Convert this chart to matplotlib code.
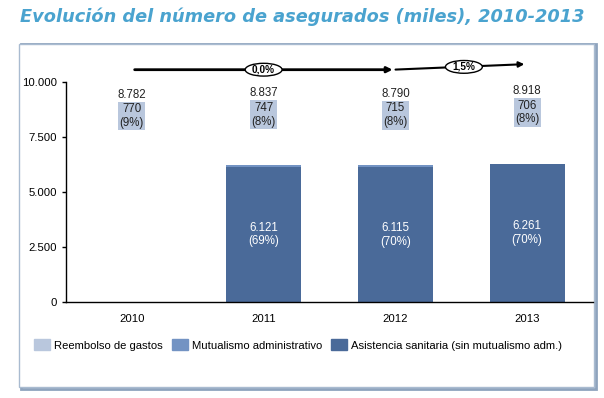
import numpy as np
import matplotlib
matplotlib.use('Agg')
import matplotlib.pyplot as plt
from matplotlib.patches import Rectangle, Ellipse

plt.rcParams['font.family'] = ['Liberation Sans', 'DejaVu Sans']

years = ['2010', '2011', '2012', '2013']
asistencia = [np.nan, 6121, 6115, 6261]
asistencia_pct = ['', '(69%)', '(70%)', '(70%)']
mutualismo = [np.nan, 90, 90, 0]
reembolso = [770, 747, 715, 706]
reembolso_pct = ['(9%)', '(8%)', '(8%)', '(8%)']
totales = [8782, 8837, 8790, 8918]
tasas = ['0,0%', '1,5%']

c_reemb = '#b9c7dd'
c_mutual = '#7393c3'
c_asist = '#4a6a99'


def fmt(v):
    return f'{v:,.0f}'.replace(',', '.')


fig = plt.figure(figsize=(6.04, 3.98), dpi=100)

fig.text(0.033, 0.957, 'Evolución del número de asegurados (miles), 2010-2013',
         fontsize=12.8, fontweight='bold', style='italic', color='#4aa3cf',
         family='DejaVu Sans', va='center')

# marco
fig.patches.append(Rectangle((21 / 604, 1 - 389 / 398), 575 / 604, 345 / 398,
                             transform=fig.transFigure, fill=False,
                             edgecolor='#8ea3bd', linewidth=2.0, zorder=-2))
fig.patches.append(Rectangle((19 / 604, 1 - 387 / 398), 575 / 604, 343 / 398,
                             transform=fig.transFigure, facecolor='white',
                             edgecolor='#a9bbd0', linewidth=1.0, zorder=-1))

ax = fig.add_axes([66 / 604, 1 - 302 / 398, 527 / 604, 220.3 / 398])
ax.set_facecolor('none')
x = np.arange(len(years))
w = 0.57

a = np.nan_to_num(asistencia)
m = np.nan_to_num(mutualismo)
ax.bar(x, a, w, color=c_asist, zorder=2)
ax.bar(x, m, w, bottom=a, color=c_mutual, zorder=2)

for i in range(len(years)):
    if asistencia[i] == asistencia[i]:
        ax.text(x[i], a[i] / 2, f'{fmt(asistencia[i])}\n{asistencia_pct[i]}',
                ha='center', va='center', color='white', fontsize=8.3, linespacing=1.2)
    yc = totales[i] - reembolso[i] / 2 + 40
    ax.text(x[i], yc, f'{fmt(reembolso[i])}\n{reembolso_pct[i]}', ha='center', va='center',
            fontsize=8.3, color='#222222', linespacing=1.2, clip_on=False,
            bbox=dict(boxstyle='square,pad=0.12', facecolor=c_reemb, edgecolor='none'))
    ax.annotate(fmt(totales[i]), (x[i], yc), xytext=(0, 15.3),
                textcoords='offset points', ha='center', va='center',
                fontsize=8.3, color='#222222', annotation_clip=False)

# flechas de crecimiento
y1, y2 = 10545, 10800
ax.annotate('', xy=(2, y1), xytext=(0, y1),
            arrowprops=dict(arrowstyle='-|>', color='black', lw=2, mutation_scale=8),
            annotation_clip=False)
ax.annotate('', xy=(3, y2), xytext=(1.98, y1),
            arrowprops=dict(arrowstyle='-|>', color='black', lw=1.5, mutation_scale=8),
            annotation_clip=False)
for xc, yc, t in [(1, y1, tasas[0]), (2.52, (y1 + y2) / 2, tasas[1])]:
    ax.add_patch(Ellipse((xc, yc), 0.28, 580, facecolor='white', edgecolor='black',
                         lw=1, clip_on=False, zorder=5))
    ax.text(xc, yc, t, ha='center', va='center', fontsize=7.2, fontweight='bold',
            zorder=6, clip_on=False)

ax.set_xlim(-0.5, 3.5)
ax.set_ylim(0, 10000)
ax.set_yticks([0, 2500, 5000, 7500, 10000])
ax.set_yticklabels([fmt(v) for v in [0, 2500, 5000, 7500, 10000]])
ax.set_xticks(x)
ax.set_xticklabels(years)
ax.tick_params(axis='x', length=0, pad=9, labelsize=8.2)
ax.tick_params(axis='y', length=3, width=1, labelsize=8.2)
for s in ['top', 'right']:
    ax.spines[s].set_visible(False)
for s in ['left', 'bottom']:
    ax.spines[s].set_color('black')
    ax.spines[s].set_linewidth(1)

handles = [Rectangle((0, 0), 1, 1, color=c) for c in (c_reemb, c_mutual, c_asist)]
fig.legend(handles, ['Reembolso de gastos', 'Mutualismo administrativo',
                     'Asistencia sanitaria (sin mutualismo adm.)'],
           loc='center left', bbox_to_anchor=(34 / 604, 1 - 345 / 398), ncol=3,
           frameon=False, fontsize=8.1, handlelength=1.42, handleheight=1.07,
           handletextpad=0.36, columnspacing=0.8, borderpad=0, borderaxespad=0)

fig.savefig('out.png', dpi=100)
